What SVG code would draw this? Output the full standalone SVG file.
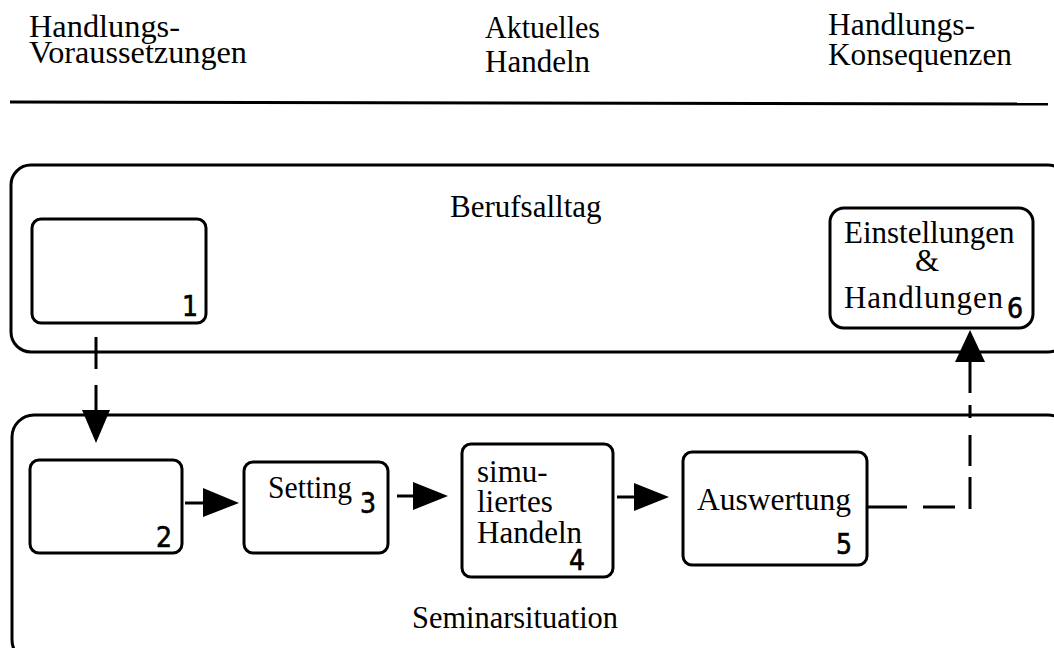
<svg xmlns="http://www.w3.org/2000/svg" width="1054" height="648" viewBox="0 0 1054 648">
<style>
.t{font-family:"Liberation Serif","Times New Roman",serif;font-size:31px;fill:#000}
.h{font-size:32.5px}
.n{font-family:"DejaVu Sans Condensed","DejaVu Sans","Liberation Sans",sans-serif;font-stretch:condensed;font-size:28px;fill:#000;stroke:#000;stroke-width:0.6}
.box{fill:none;stroke:#000;stroke-width:3}
.big{fill:none;stroke:#000;stroke-width:3}
.ln{stroke:#000;stroke-width:3;fill:none}
.ah{fill:#000;stroke:none}
</style>
<rect width="1054" height="648" fill="#fff"/>
<g id="header">
<text class="t h" x="29" y="37" textLength="151" lengthAdjust="spacingAndGlyphs">Handlungs-</text>
<text class="t h" x="29" y="63" textLength="218" lengthAdjust="spacingAndGlyphs">Voraussetzungen</text>
<text class="t" x="485" y="38" textLength="115" lengthAdjust="spacingAndGlyphs">Aktuelles</text>
<text class="t" x="485" y="72" textLength="105" lengthAdjust="spacingAndGlyphs">Handeln</text>
<text class="t h" x="828" y="35" textLength="147" lengthAdjust="spacingAndGlyphs">Handlungs-</text>
<text class="t h" x="828" y="65" textLength="184" lengthAdjust="spacingAndGlyphs">Konsequenzen</text>
<line class="ln" x1="10" y1="102" x2="1048" y2="104"/>
</g>
<g id="berufsalltag">
<rect class="big" x="11" y="165" width="1057" height="187" rx="20"/>
<text class="t" x="450" y="217">Berufsalltag</text>
</g>
<g id="seminarsituation">
<rect class="big" x="12" y="415" width="1058" height="247" rx="22"/>
<text class="t" x="412" y="628" textLength="206" lengthAdjust="spacingAndGlyphs">Seminarsituation</text>
</g>
<g id="node1">
<rect class="box" x="32" y="219" width="174" height="104" rx="9"/>
<text class="n" x="182" y="316">1</text>
</g>
<g id="node2">
<rect class="box" x="30" y="460" width="152" height="93" rx="9"/>
<text class="n" x="156" y="547">2</text>
</g>
<g id="node3">
<rect class="box" x="244" y="462" width="144" height="91" rx="9"/>
<text class="t" x="268" y="498" textLength="84" lengthAdjust="spacingAndGlyphs">Setting</text>
<text class="n" x="360" y="513">3</text>
</g>
<g id="node4">
<rect class="box" x="462" y="444" width="151" height="133" rx="9"/>
<text class="t" x="477" y="482">simu-</text>
<text class="t" x="477" y="512">liertes</text>
<text class="t" x="477" y="543">Handeln</text>
<text class="n" x="569" y="570">4</text>
</g>
<g id="node5">
<rect class="box" x="683" y="452" width="184" height="113" rx="9"/>
<text class="t" x="697" y="510" textLength="154" lengthAdjust="spacingAndGlyphs">Auswertung</text>
<text class="n" x="836" y="554">5</text>
</g>
<g id="node6">
<rect class="box" x="830" y="208" width="203" height="120" rx="14"/>
<text class="t" x="844" y="243">Einstellungen</text>
<text class="t" x="927" y="271" text-anchor="middle">&amp;</text>
<text class="t" x="844" y="308" textLength="159" lengthAdjust="spacing">Handlungen</text>
<text class="n" x="1007" y="318">6</text>
</g>
<g id="connectors">
<path class="ln" d="M96 337V369M96 385V410"/>
<polygon class="ah" points="82,410 110,410 96,443"/>
<path class="ln" d="M185 503H205"/>
<polygon class="ah" points="203,488 239,503 203,517"/>
<path class="ln" d="M397 496H414"/>
<polygon class="ah" points="413,482 448,496 413,510"/>
<path class="ln" d="M617 497H635"/>
<polygon class="ah" points="634,483 669,497 634,511"/>
<path class="ln" d="M867 507H907M923 507H955"/>
<path class="ln" d="M970 509V477M970 466V435M970 418V405M970 393V362"/>
<polygon class="ah" points="955,362 985,362 970,330"/>
</g>
</svg>
